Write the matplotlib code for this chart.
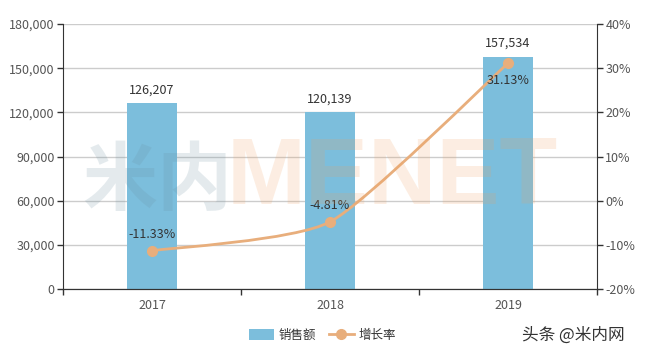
import matplotlib
matplotlib.use("Agg")
import matplotlib.pyplot as plt
from matplotlib.path import Path
from matplotlib.patches import PathPatch, Patch
from matplotlib.lines import Line2D
from matplotlib.ticker import FuncFormatter
import numpy as np

plt.rcParams['font.family'] = ['Noto Sans CJK SC', 'DejaVu Sans']

years = ['2017', '2018', '2019']
sales = [126207, 120139, 157534]
growth = [-11.33, -4.81, 31.13]
sales_ticks = [0, 30000, 60000, 90000, 120000, 150000, 180000]
growth_ticks = [-20, -10, 0, 10, 20, 30, 40]

BAR = '#7cbedc'
LINE = '#e8ae7c'
TXT = '#555555'

fig = plt.figure(figsize=(6.45, 3.5), dpi=100)
ax = fig.add_axes([63/645, 61/350, 534/645, 265/350])
ax2 = ax.twinx()

x = np.arange(len(years))
ax.bar(x, sales, width=50/178, color=BAR, zorder=2)
ax.set_xlim(-0.5, len(years) - 0.5)
ax.set_ylim(sales_ticks[0], sales_ticks[-1])
ax.set_yticks(sales_ticks)
ax.yaxis.set_major_formatter(FuncFormatter(lambda v, p: f'{int(v):,}'))
ax.set_xticks(x)
ax.set_xticklabels(years)
ax.set_xticks(np.arange(len(years) + 1) - 0.5, minor=True)
ax.tick_params(axis='x', which='major', length=0, pad=7, labelsize=9, labelcolor=TXT)
ax.tick_params(axis='x', which='minor', length=4, width=1, color='#333333', direction='out')
ax.tick_params(axis='y', length=4, width=1, color='#333333', pad=2, labelsize=9, labelcolor=TXT)
ax.grid(axis='y', color='#cccccc', linewidth=1, zorder=0)
ax.set_axisbelow(True)
for a in (ax, ax2):
    a.spines['top'].set_visible(False)
    a.spines['left'].set_color('#333333')
    a.spines['right'].set_color('#333333')
    a.spines['bottom'].set_color('#333333')
ax.spines['right'].set_visible(False)
ax2.spines['left'].set_visible(False)

for xi, v in zip(x, sales):
    ax.annotate(f'{v:,}', (xi, v), xytext=(0, 5), textcoords='offset points',
                ha='center', va='bottom', fontsize=9, color='#333333')

ax2.set_ylim(growth_ticks[0], growth_ticks[-1])
ax2.set_yticks(growth_ticks)
ax2.yaxis.set_major_formatter(FuncFormatter(lambda v, p: f'{int(v)}%'))
ax2.tick_params(axis='y', length=4, width=1, color='#333333', pad=2, labelsize=9, labelcolor=TXT)

# lightly smoothed line through data points (cubic bezier segments)
pts = np.column_stack([x, growth]).astype(float)
verts = [tuple(pts[0])]
codes = [Path.MOVETO]
sm = 0.1
for i in range(len(pts) - 1):
    p0 = pts[max(i - 1, 0)]
    p1 = pts[i]
    p2 = pts[i + 1]
    p3 = pts[min(i + 2, len(pts) - 1)]
    c1 = p1 + (p2 - p0) * sm
    c2 = p2 - (p3 - p1) * sm
    verts += [tuple(c1), tuple(c2), tuple(p2)]
    codes += [Path.CURVE4] * 3
ax2.add_patch(PathPatch(Path(verts, codes), facecolor='none', edgecolor=LINE, lw=2, zorder=3))
ax2.plot(x, growth, 'o', color=LINE, markersize=7, zorder=4)
for i, (xi, v) in enumerate(zip(x, growth)):
    if i == len(growth) - 1:
        ax2.annotate(f'{v:.2f}%', (xi, v), xytext=(0, -8), textcoords='offset points',
                     ha='center', va='top', fontsize=9, color='#333333', zorder=5)
    else:
        ax2.annotate(f'{v:.2f}%', (xi, v), xytext=(0, 7), textcoords='offset points',
                     ha='center', va='bottom', fontsize=9, color='#333333', zorder=5)

# watermark
fig.text(157/645, 1 - 182/350, '米内', fontsize=54, fontweight='bold', color='#6b8fa0',
         alpha=0.18, ha='center', va='center', zorder=10)
fig.text(392/645, 1 - 180/350, 'MENET', fontsize=68, fontweight='bold', color='#f0a060',
         alpha=0.18, ha='center', va='center', zorder=10, family='Liberation Sans')

# legend
handles = [Patch(facecolor=BAR, edgecolor='none'),
           Line2D([0], [0], color=LINE, lw=2, marker='o', markersize=7)]
fig.legend(handles, ['销售额', '增长率'], loc='center', bbox_to_anchor=(0.5, 1 - 335/350),
           ncol=2, frameon=False, fontsize=9, handlelength=2.0, handleheight=1.0,
           columnspacing=1.0, handletextpad=0.4, labelcolor='#333333')

fig.text(625/645, 1 - 335/350, '头条 @米内网', fontsize=12, color='#333333', ha='right', va='center')

fig.savefig('out.png', dpi=100)
